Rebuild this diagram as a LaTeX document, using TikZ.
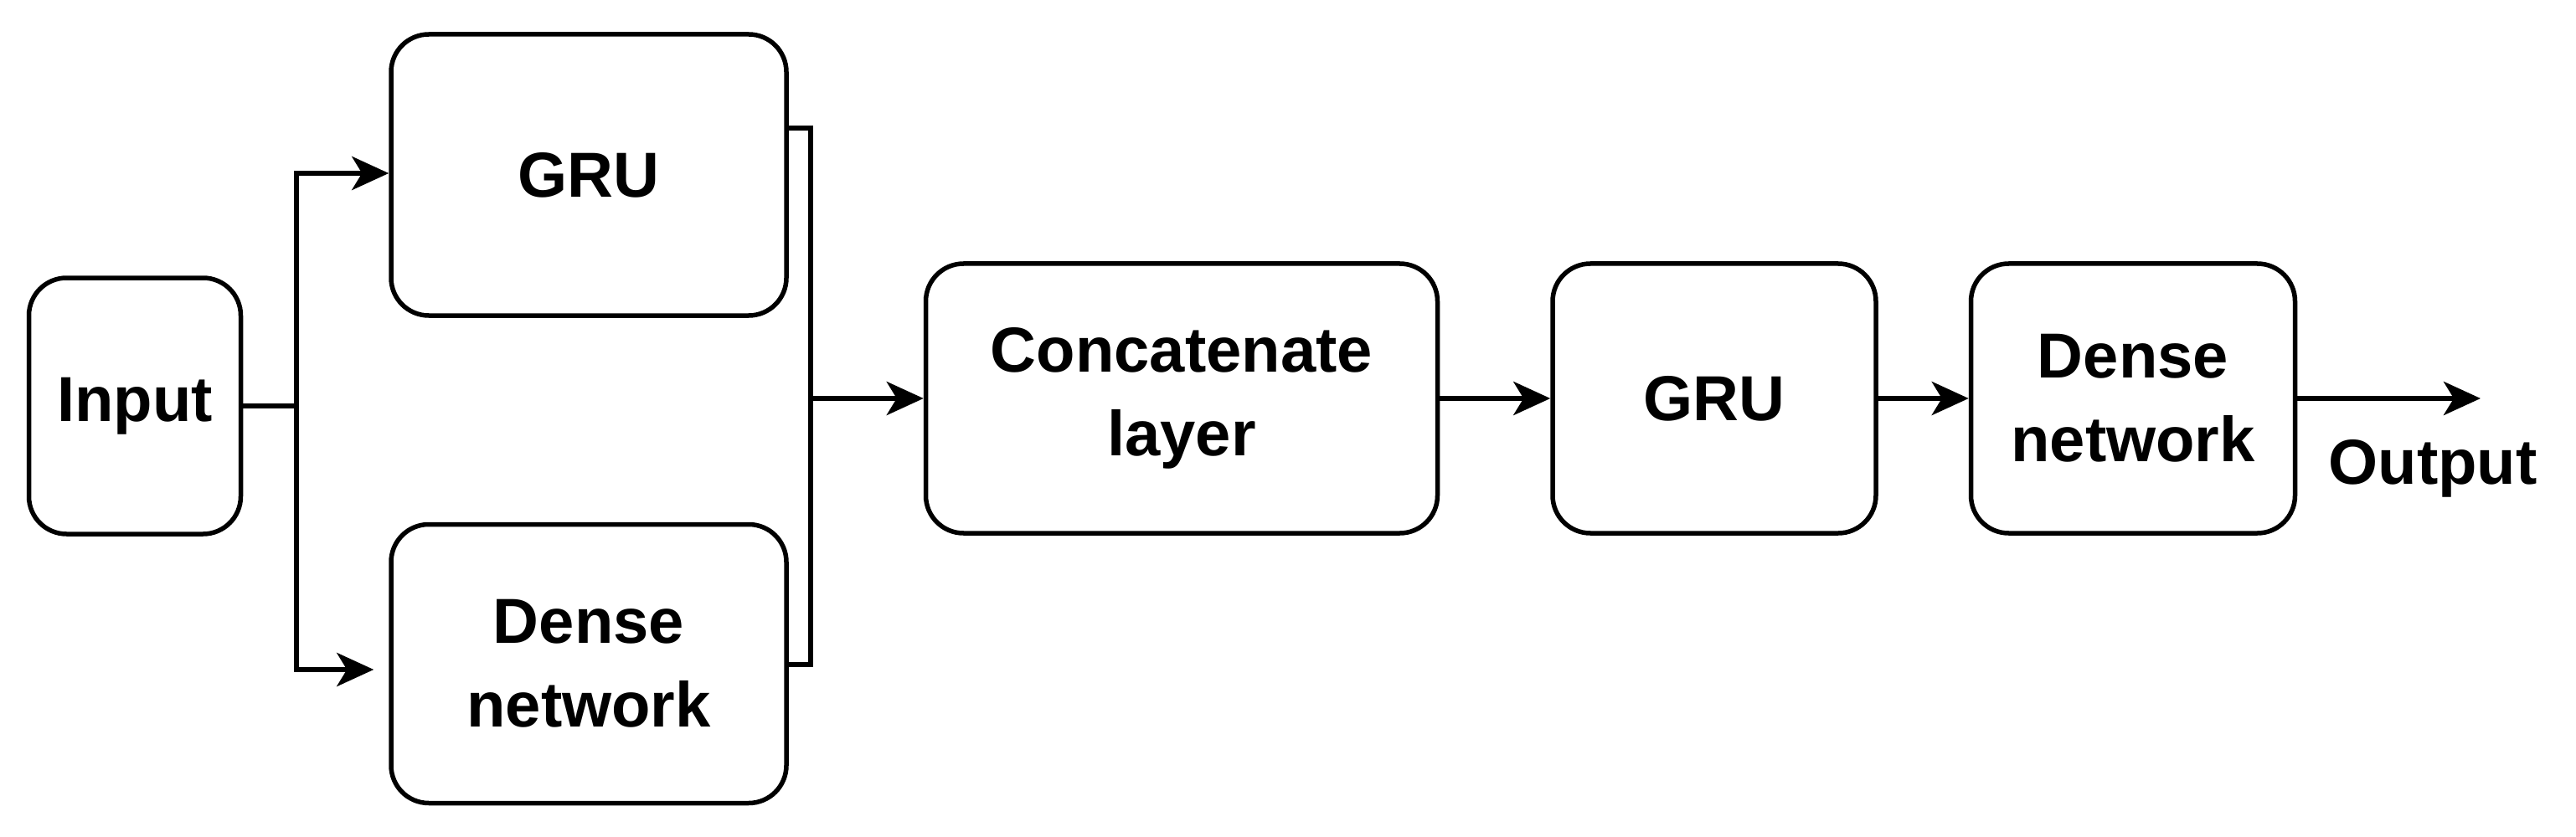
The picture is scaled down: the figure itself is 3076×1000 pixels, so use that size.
\documentclass[tikz,border=0pt]{standalone}
\usepackage{fontspec}
\setmainfont{Liberation Sans}
\usetikzlibrary{arrows.meta}
\begin{document}
\begin{tikzpicture}[x=1pt,y=-1pt,
  box/.style={draw,line width=5.5pt,rounded corners=45pt,inner sep=0pt,align=center,
    font=\fontsize{76}{100}\selectfont\bfseries},
  conn/.style={line width=6pt,-{Stealth[length=44pt,width=40pt,inset=12pt]}},
  ln/.style={line width=6pt}]
\useasboundingbox (0,0) rectangle (3076,1000);
\node[box,minimum width=253pt,minimum height=306pt] (in) at (161,485) {Input};
\node[box,minimum width=472pt,minimum height=336pt] (gru1) at (703,209) {GRU};
\node[box,minimum width=472pt,minimum height=333pt] (den1) at (703,793) {Dense\\network};
\node[box,minimum width=611pt,minimum height=322pt] (cat) at (1411,476) {Concatenate\\layer};
\node[box,minimum width=386pt,minimum height=322pt] (gru2) at (2047,476) {GRU};
\node[box,minimum width=387pt,minimum height=322pt] (den2) at (2547,476) {Dense\\network};
\coordinate (br) at (354,485);
\coordinate (mg) at (968,476);
\coordinate (out) at (2962,476);
\node[font=\fontsize{76}{90}\selectfont\bfseries] (otxt) at (2905,560) {Output};
\draw[ln] (in.east) -- (br);
\draw[conn] (br) |- (gru1.west |- 0,207);
\draw[conn,shorten >=18pt] (br) |- (den1.west |- 0,800);
\draw[ln] (gru1.east |- 0,153) -| (mg) |- (den1.east |- 0,794);
\draw[conn] (mg) -- (cat.west);
\draw[conn] (cat.east) -- (gru2.west);
\draw[conn] (gru2.east) -- (den2.west);
\draw[conn] (den2.east) -- (out);
\end{tikzpicture}
\end{document}
